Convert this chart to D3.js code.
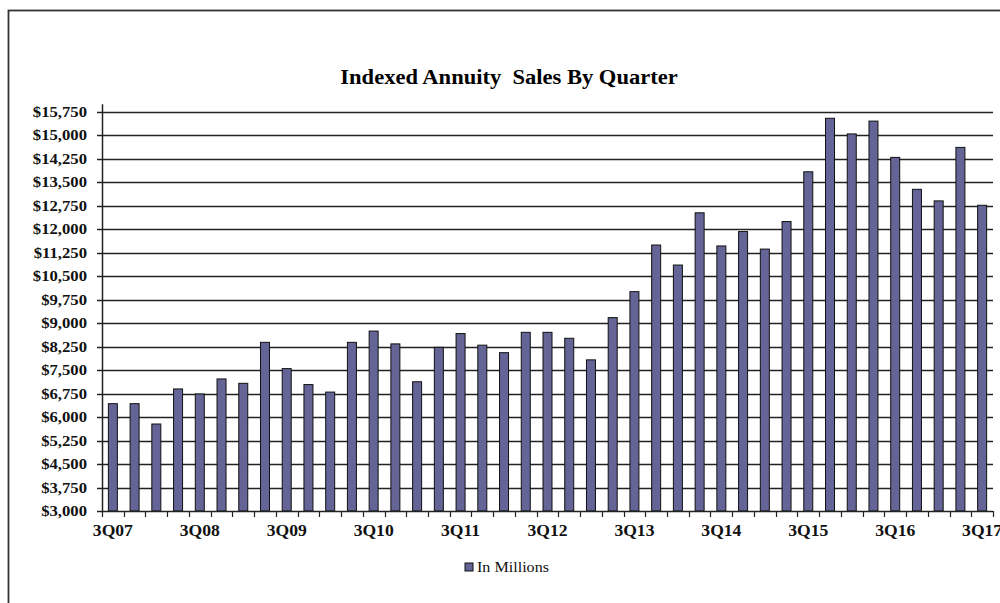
<!DOCTYPE html>
<html>
<head>
<meta charset="utf-8">
<script src="https://cdn.jsdelivr.net/npm/d3@7"></script>
<style>
  body { margin: 0; background: #fff; }
  svg { display: block; }
</style>
</head>
<body>
<div id="chart"></div>
<script>
// quarters shown on the x axis
var quarters = [
  "3Q07", "4Q07", "1Q08", "2Q08", "3Q08", "4Q08", "1Q09", "2Q09", "3Q09", "4Q09",
  "1Q10", "2Q10", "3Q10", "4Q10", "1Q11", "2Q11", "3Q11", "4Q11", "1Q12", "2Q12",
  "3Q12", "4Q12", "1Q13", "2Q13", "3Q13", "4Q13", "1Q14", "2Q14", "3Q14", "4Q14",
  "1Q15", "2Q15", "3Q15", "4Q15", "1Q16", "2Q16", "3Q16", "4Q16", "1Q17", "2Q17",
  "3Q17"
];

// sales in millions
var sales = [
  6430, 6430, 5780, 6900, 6740, 7220, 7080, 8390, 7550, 7040,
  6800, 8390, 8750, 8340, 7130, 8230, 8670, 8300, 8060, 8710,
  8710, 8520, 7830, 9180, 10010, 11500, 10860, 12530, 11470, 11930,
  11370, 12250, 13840, 15550, 15050, 15460, 14300, 13280, 12910, 14620,
  12770
];

var xLabels = ["3Q07", "3Q08", "3Q09", "3Q10", "3Q11", "3Q12", "3Q13", "3Q14", "3Q15", "3Q16", "3Q17"];

var yTicks = [3000, 3750, 4500, 5250, 6000, 6750, 7500, 8250, 9000, 9750,
  10500, 11250, 12000, 12750, 13500, 14250, 15000, 15750];

var seriesName = "In Millions";
var title = "Indexed Annuity  Sales By Quarter";

var barColor = "#646496",
    lineColor = "#222";

var width = 1000, height = 603;
var plotLeft = 102, plotRight = 993, plotTop = 104.2, plotBottom = 511;
var serif = "'Liberation Serif', 'Times New Roman', serif";

var svg = d3.select("#chart").append("svg")
  .attr("width", width)
  .attr("height", height);

// outer frame
svg.append("rect")
  .attr("x", 8.5).attr("y", 10.5)
  .attr("width", 1010).attr("height", 620)
  .attr("fill", "none")
  .attr("stroke", "#333")
  .attr("stroke-width", 1.8);

var x = d3.scaleBand()
  .domain(quarters)
  .range([plotLeft, plotRight])
  .paddingInner(0)
  .paddingOuter(0);

var y = d3.scaleLinear()
  .domain([3000, 16000])
  .range([plotBottom, plotTop]);

var fmt = d3.format("$,");

// title
svg.append("text")
  .attr("transform", "translate(509,84) scale(1.1,1)")
  .attr("text-anchor", "middle")
  .attr("xml:space", "preserve")
  .style("font-family", serif)
  .style("font-weight", "bold")
  .style("font-size", "20.5px")
  .style("white-space", "pre")
  .text(title);

// gridlines
svg.append("g").selectAll("line")
  .data(yTicks.filter(d => d > 3000))
  .enter().append("line")
  .attr("x1", plotLeft - 5).attr("x2", plotRight)
  .attr("y1", d => Math.round(y(d)) + 0.5)
  .attr("y2", d => Math.round(y(d)) + 0.5)
  .attr("stroke", lineColor)
  .attr("stroke-width", 1.3);

// y labels
svg.append("g").selectAll("text")
  .data(yTicks)
  .enter().append("text")
  .attr("transform", d => "translate(87," + (y(d) + 5) + ") scale(1.15,1)")
  .attr("text-anchor", "end")
  .style("font-family", serif)
  .style("font-weight", "bold")
  .style("font-size", "14.5px")
  .attr("fill", "#111")
  .text(d => fmt(d));

// bars
svg.append("g").selectAll("rect")
  .data(sales)
  .enter().append("rect")
  .attr("x", (d, i) => x(quarters[i]) + x.bandwidth() / 2 - 4.5)
  .attr("width", 9)
  .attr("y", d => y(d))
  .attr("height", d => plotBottom - y(d))
  .attr("fill", barColor)
  .attr("stroke", "#111")
  .attr("stroke-width", 1);

// y axis line
svg.append("line")
  .attr("x1", plotLeft + 0.5).attr("x2", plotLeft + 0.5)
  .attr("y1", plotTop).attr("y2", plotBottom + 0.5)
  .attr("stroke", lineColor)
  .attr("stroke-width", 1.5);

// x axis line and ticks between categories
svg.append("line")
  .attr("x1", plotLeft - 5).attr("x2", plotRight)
  .attr("y1", plotBottom + 0.5).attr("y2", plotBottom + 0.5)
  .attr("stroke", lineColor)
  .attr("stroke-width", 1.5);

var boundaries = quarters.map(q => x(q)).concat([plotRight]);
svg.append("g").selectAll("line")
  .data(boundaries)
  .enter().append("line")
  .attr("x1", d => Math.round(d) + 0.5).attr("x2", d => Math.round(d) + 0.5)
  .attr("y1", plotBottom).attr("y2", plotBottom + 6)
  .attr("stroke", lineColor)
  .attr("stroke-width", 1.2);

// x labels
svg.append("g").selectAll("text")
  .data(xLabels)
  .enter().append("text")
  .attr("transform", d => "translate(" + (x(d) + x.bandwidth() / 2) + ",536) scale(1.1,1)")
  .attr("text-anchor", "middle")
  .style("font-family", serif)
  .style("font-weight", "bold")
  .style("font-size", "16px")
  .attr("fill", "#111")
  .text(d => d);

// legend
var legend = svg.append("g").attr("transform", "translate(465,563)");
legend.append("rect")
  .attr("width", 8).attr("height", 8)
  .attr("fill", barColor)
  .attr("stroke", "#111")
  .attr("stroke-width", 1);
legend.append("text")
  .attr("transform", "translate(12,9) scale(1.15,1)")
  .style("font-family", serif)
  .style("font-size", "14px")
  .attr("fill", "#111")
  .text(seriesName);
</script>
</body>
</html>
